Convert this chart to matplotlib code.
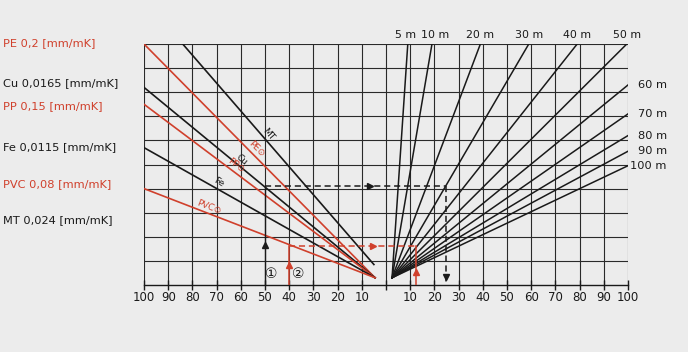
#!/usr/bin/env python3
"""
Thermal expansion nomogram: temperature difference -> material -> pipe length -> elongation.
"""

import numpy as np
import matplotlib
matplotlib.use("Agg")
import matplotlib.pyplot as plt

RED = '#d0402c'
BLACK = '#1a1a1a'
BG = '#ececec'

# left panel: materials and their expansion lines
materials = ['PE', 'Cu', 'PP', 'Fe', 'PVC', 'MT']
coefficients = ['0,2', '0,0165', '0,15', '0,0115', '0,08', '0,024']
material_red = [True, False, True, False, True, False]
line_start_x = [-100, -100, -100, -100, -100, -84]
line_start_y = [100, 82, 75, 57, 40, 100]
line_end_x = [-4.5, -4.5, -4.5, -4.5, -4.5, -5]
line_end_y = [3, 3, 3, 3, 3, 8.5]
line_label_x = [-55, -61, -63, -70, -74, -50]
line_tags = ['PE⊙', 'Cu', 'PP⊙', 'Fe', 'PVC⊙', 'MT']

# right panel: pipe length lines
lengths_top = [5, 10, 20, 30, 40, 50]
lengths_top_x = [9, 19, 39, 59, 79, 99.5]
lengths_side = [60, 70, 80, 90, 100]
lengths_side_y = [83, 71, 62, 55.5, 49.5]
fan_origin = (2.5, 3)

# bottom axis
tick_values = list(range(-100, 101, 10))

# worked examples (temperature, elongation)
example_black = {'dT': -50, 'level': 40.9, 'result': 24.8}
example_red = {'dT': -40, 'level': 16.1, 'result': 12.4}


def line_y(i, x):
    """y value of material line i at x."""
    x0, y0 = line_start_x[i], line_start_y[i]
    x1, y1 = line_end_x[i], line_end_y[i]
    return y0 + (y1 - y0) * (x - x0) / (x1 - x0)


def main():
    fig = plt.figure(figsize=(6.88, 3.52), dpi=100, facecolor=BG)
    ax = fig.add_axes([144 / 688, 67 / 352, 484 / 688, 241 / 352])
    ax.set_facecolor(BG)
    ax.set_xlim(-100, 100)
    ax.set_ylim(0, 100)

    # grid
    for gx in tick_values:
        ax.plot([gx, gx], [0, 100], color='#2a2a2a', lw=0.8, zorder=1)
    for gy in range(10, 101, 10):
        ax.plot([-100, 100], [gy, gy], color='#2a2a2a', lw=0.8, zorder=1)

    # material lines and their tags
    for i, name in enumerate(materials):
        col = RED if material_red[i] else BLACK
        ax.plot([line_start_x[i], line_end_x[i]], [line_start_y[i], line_end_y[i]],
                color=col, lw=1.2, zorder=3)
        lx = line_label_x[i]
        ang = np.degrees(np.arctan2(line_end_y[i] - line_start_y[i],
                                    line_end_x[i] - line_start_x[i]))
        ax.text(lx, line_y(i, lx) + 0.8, line_tags[i], color=col, fontsize=6.5,
                rotation=ang, rotation_mode='anchor', ha='center', va='bottom',
                transform_rotates_text=True, zorder=4)

    # length fan
    ox, oy = fan_origin
    for L, tx in zip(lengths_top, lengths_top_x):
        ax.plot([ox, tx], [oy, 100], color=BLACK, lw=1.1, zorder=3)
        shift = {5: -1.0, 10: 1.5}.get(L, 0)
        ax.text(tx + shift, 103.8, f'{L} m', fontsize=7.9, ha='center', va='center',
                color=BLACK, clip_on=False)
    for L, sy in zip(lengths_side, lengths_side_y):
        ax.plot([ox, 100], [oy, sy], color=BLACK, lw=1.1, zorder=3)
        ax.text(116, sy, f'{L} m', fontsize=8.2, ha='right', va='center',
                color=BLACK, clip_on=False)

    # example 1 (black)
    eb = example_black
    ax.plot([eb['dT'], eb['dT']], [0, eb['level']], color=BLACK, lw=1.0, zorder=5)
    ax.plot(eb['dT'], 16.5, marker='^', color=BLACK, ms=4, zorder=6)
    ax.plot([eb['dT'], eb['result']], [eb['level'], eb['level']], color=BLACK,
            lw=1.1, ls=(0, (4, 2.5)), zorder=5)
    ax.plot(-6.6, eb['level'], marker='>', color=BLACK, ms=4, zorder=6)
    ax.plot([eb['result'], eb['result']], [eb['level'], 0], color=BLACK,
            lw=1.1, ls=(0, (4, 2.5)), zorder=5)
    ax.plot(eb['result'], 3.5, marker='v', color=BLACK, ms=4, zorder=6)

    # example 2 (red)
    er = example_red
    ax.plot([er['dT'], er['dT']], [0, er['level']], color=RED, lw=1.1, zorder=5)
    ax.plot(er['dT'], 8.3, marker='^', color=RED, ms=4, zorder=6)
    ax.plot([er['dT'], er['result']], [er['level'], er['level']], color=RED,
            lw=1.1, ls=(0, (4, 2.5)), zorder=5)
    ax.plot(-5.4, er['level'], marker='>', color=RED, ms=4, zorder=6)
    ax.plot([er['result'], er['result']], [er['level'], 0], color=RED, lw=1.1, zorder=5)
    ax.plot(er['result'], 5.4, marker='^', color=RED, ms=4, zorder=6)

    ax.text(-47.5, 4.5, '①', fontsize=10, ha='center', va='center', color=BLACK, zorder=6)
    ax.text(-36.4, 4.5, '②', fontsize=10, ha='center', va='center', color=BLACK, zorder=6)

    # bottom axis
    for side in ['top', 'left', 'right']:
        ax.spines[side].set_visible(False)
    ax.spines['bottom'].set_color(BLACK)
    ax.spines['bottom'].set_linewidth(1.0)
    ax.set_yticks([])
    ax.set_xticks(tick_values)
    ax.set_xticklabels([str(abs(v)) if v != 0 else '' for v in tick_values], fontsize=8.5)
    ax.tick_params(axis='x', direction='inout', length=7, width=1.0, pad=1,
                   colors=BLACK)

    # material legend on the left
    legend_y = [43, 83, 106, 147, 184, 220]
    for i, name in enumerate(materials):
        col = RED if material_red[i] else BLACK
        fig.text(3 / 688, 1 - legend_y[i] / 352, f'{name} {coefficients[i]} [mm/mK]',
                 fontsize=8.2, color=col, ha='left', va='center')

    fig.savefig('out.png', dpi=100, facecolor=BG)
    plt.close(fig)


if __name__ == "__main__":
    main()
